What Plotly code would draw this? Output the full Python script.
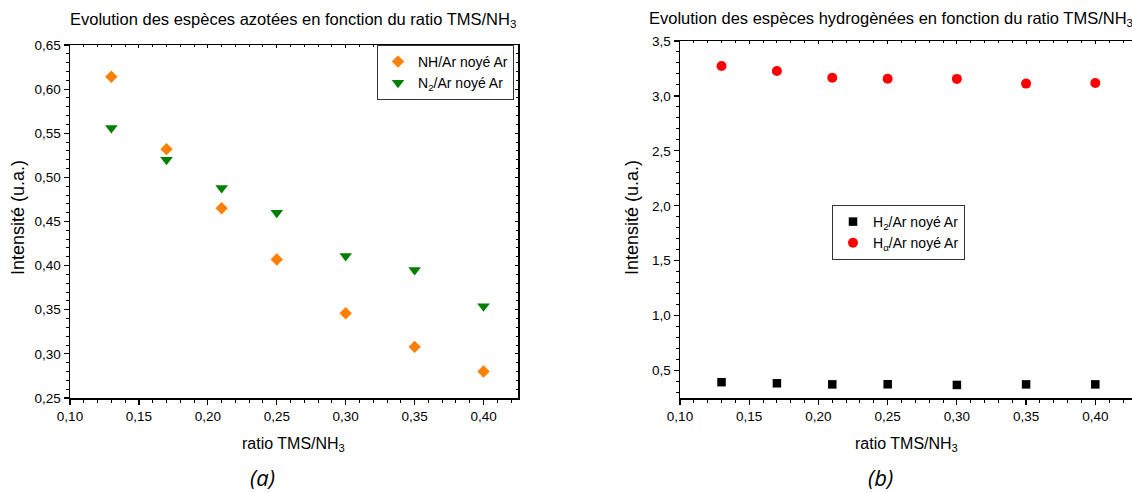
import plotly.graph_objects as go

# ---- data ----
ratio = [0.13, 0.17, 0.21, 0.25, 0.30, 0.35, 0.40]
nh_ar = [0.614, 0.532, 0.465, 0.407, 0.346, 0.308, 0.280]
n2_ar = [0.556, 0.520, 0.488, 0.460, 0.411, 0.395, 0.354]
h2_ar = [0.394, 0.384, 0.374, 0.375, 0.369, 0.374, 0.374]
ha_ar = [3.273, 3.227, 3.166, 3.157, 3.155, 3.112, 3.117]

title_a = "Evolution des espèces azotées en fonction du ratio TMS/NH<sub>3</sub>"
title_b = "Evolution des espèces hydrogènées en fonction du ratio TMS/NH<sub>3</sub>"
xlabel = "ratio TMS/NH<sub>3</sub>"
ylabel = "Intensité (u.a.)"
names_a = ["NH/Ar noyé Ar", "N<sub>2</sub>/Ar noyé Ar"]
names_b = ["H<sub>2</sub>/Ar noyé Ar", "H<sub>α</sub>/Ar noyé Ar"]

W, H = 1132, 492
FONT = "Liberation Sans, Arial, sans-serif"

def px(x):
    return x / W

def py(y):
    return 1 - y / H

fig = go.Figure()

fig.add_trace(go.Scatter(x=ratio, y=nh_ar, mode="markers", name=names_a[0],
                         marker=dict(symbol="diamond", size=9.5, color="#FF8000"),
                         xaxis="x", yaxis="y", legend="legend"))
fig.add_trace(go.Scatter(x=ratio, y=n2_ar, mode="markers", name=names_a[1],
                         marker=dict(symbol="triangle-down", size=11, color="#008000"),
                         xaxis="x", yaxis="y", legend="legend"))
fig.add_trace(go.Scatter(x=ratio, y=h2_ar, mode="markers", name=names_b[0],
                         marker=dict(symbol="square", size=8.5, color="black"),
                         xaxis="x2", yaxis="y2", legend="legend2"))
fig.add_trace(go.Scatter(x=ratio, y=ha_ar, mode="markers", name=names_b[1],
                         marker=dict(symbol="circle", size=10, color="#FF0000"),
                         xaxis="x2", yaxis="y2", legend="legend2"))
# empty traces so the mirror (top/right) axes are drawn
fig.add_trace(go.Scatter(x=[], y=[], xaxis="x3", yaxis="y3", showlegend=False))
fig.add_trace(go.Scatter(x=[], y=[], xaxis="x4", yaxis="y4", showlegend=False))

tickfont = dict(family=FONT, size=13.5, color="black")

def base_axis(**kw):
    d = dict(showline=True, linecolor="black", linewidth=1.5, showgrid=False,
             zeroline=False, ticks="outside", ticklen=5, tickwidth=1.2,
             tickcolor="black", tickfont=tickfont, automargin=False,
             minor=dict(ticks="outside", ticklen=3, tickwidth=1, tickcolor="black", showgrid=False))
    d.update(kw)
    return d

def mirror_axis(**kw):
    d = dict(showline=True, linecolor="black", linewidth=1.5, showgrid=False,
             zeroline=False, ticks="inside", ticklen=3, tickwidth=1,
             tickcolor="black", showticklabels=False, automargin=False,
             minor=dict(ticks="inside", ticklen=2, tickwidth=1, tickcolor="black", showgrid=False))
    d.update(kw)
    return d

xa_dom = [px(70), px(518)]
ya_dom = [py(398), py(45)]
xb_dom = [px(680), 1.0]
yb_dom = [py(398), py(41)]

xr_a = [0.10, 0.425]
yr_a = [0.25, 0.65]
xr_b = [0.10, 0.4265]
yr_b = [0.25, 3.5]

fig.update_layout(
    width=W, height=H, autosize=False,
    margin=dict(l=0, r=0, t=0, b=0, pad=0, autoexpand=False),
    paper_bgcolor="white", plot_bgcolor="white",
    separators=", ",
    font=dict(family=FONT, color="black"),
    xaxis=base_axis(domain=xa_dom, anchor="y", range=xr_a, dtick=0.05, tick0=0.1,
                    tickformat=".2f"),
    yaxis=base_axis(domain=ya_dom, anchor="x", range=yr_a, dtick=0.05, tick0=0.25,
                    tickformat=".2f"),
    xaxis3=mirror_axis(overlaying="x", side="top", anchor="y", range=xr_a, dtick=0.05, tick0=0.1),
    yaxis3=mirror_axis(overlaying="y", side="right", anchor="x", range=yr_a, dtick=0.05, tick0=0.25),
    xaxis2=base_axis(domain=xb_dom, anchor="y2", range=xr_b, dtick=0.05, tick0=0.1,
                     tickformat=".2f"),
    yaxis2=base_axis(domain=yb_dom, anchor="x2", range=yr_b, dtick=0.5, tick0=0.5,
                     tickformat=".1f"),
    xaxis4=mirror_axis(overlaying="x2", side="top", anchor="y2", range=xr_b, dtick=0.05, tick0=0.1),
    yaxis4=dict(overlaying="y2", anchor="x4", range=yr_b, visible=False),
    legend=dict(x=px(377), y=py(45), xanchor="left", yanchor="top",
                bgcolor="white", bordercolor="#333333", borderwidth=1,
                font=dict(family=FONT, size=14, color="black"),
                itemwidth=30, tracegroupgap=0),
    legend2=dict(x=px(832), y=py(205), xanchor="left", yanchor="top",
                 bgcolor="white", bordercolor="#333333", borderwidth=1,
                 font=dict(family=FONT, size=14, color="black"),
                 itemwidth=30, tracegroupgap=0),
    showlegend=True,
)

ann = []
def add_text(text, x, y, size=14, angle=0, xanchor="center", yanchor="middle", italic=False, family=FONT):
    ann.append(dict(text=text, x=px(x), y=py(y), xref="paper", yref="paper",
                    showarrow=False, xanchor=xanchor, yanchor=yanchor, textangle=angle,
                    font=dict(family=family, size=size, color="black",
                              style="italic" if italic else "normal")))

add_text(title_a, 293, 20, size=16.5)
add_text(title_b, 647, 19, size=16.5, xanchor="left")
add_text(ylabel, 18, 218, size=18, angle=-90)
add_text(ylabel, 632, 218, size=18, angle=-90)
add_text(xlabel, 293, 444, size=16)
add_text(xlabel, 906, 444, size=16)
add_text("(a)", 262, 477, size=22, italic=True, family="Open Sans, sans-serif")
add_text("(b)", 880, 477, size=22, italic=True, family="Open Sans, sans-serif")
fig.update_layout(annotations=ann)

fig.write_html("out.html",
               config={"displayModeBar": False, "staticPlot": True},
               post_script="document.body.style.margin='0';document.body.style.overflow='hidden';")
